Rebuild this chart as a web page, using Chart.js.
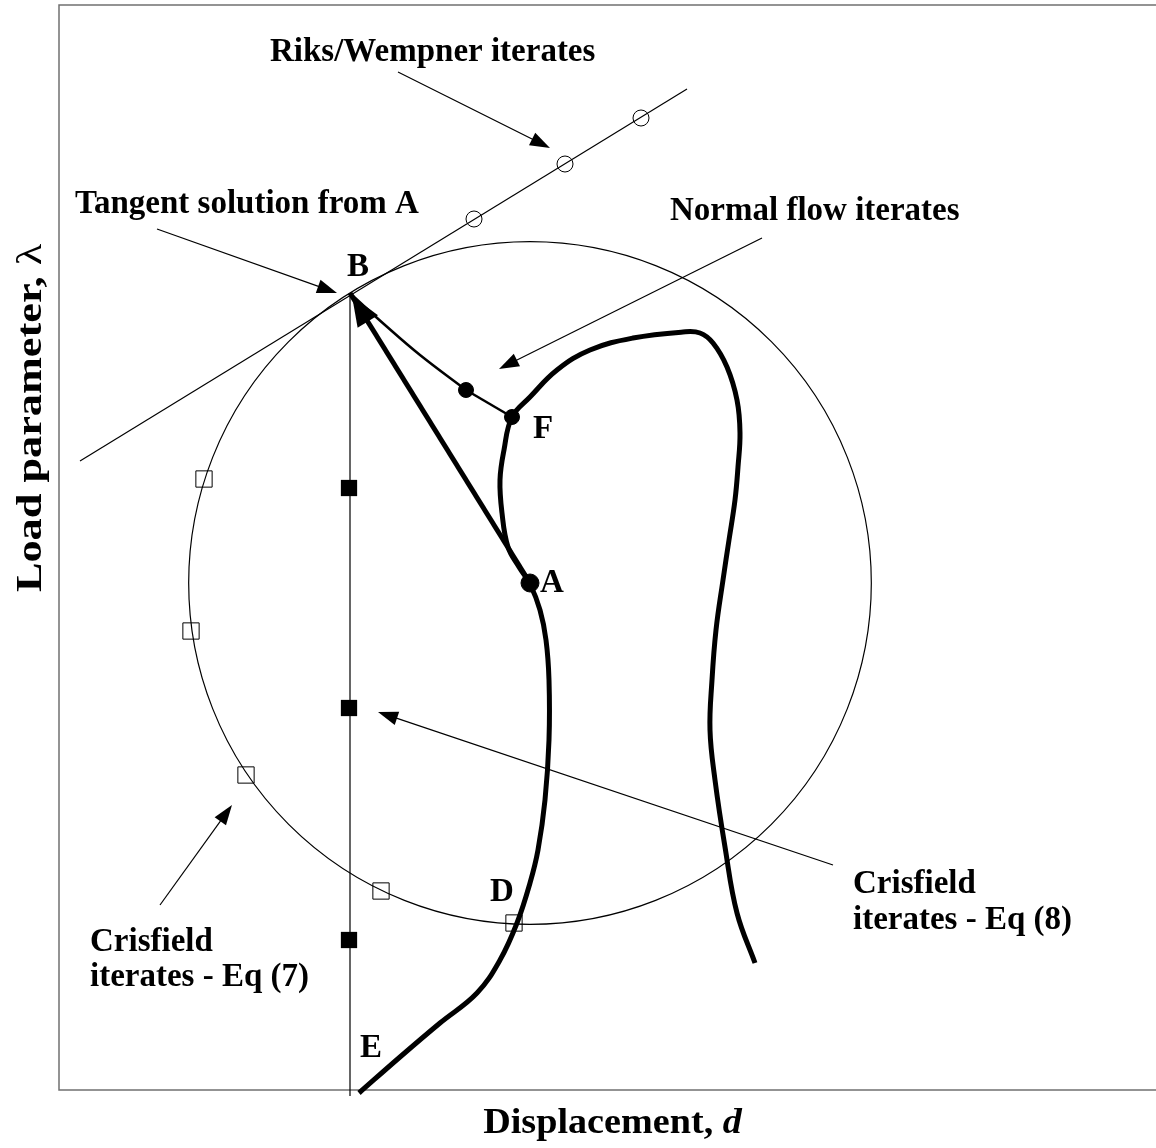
<!DOCTYPE html>
<html>
<head>
<meta charset="utf-8">
<script src="https://cdn.jsdelivr.net/npm/chart.js@4.4.1/dist/chart.umd.min.js"></script>
<style>
  body { margin: 0; background: #fff; }
  #wrap { width: 1156px; height: 1148px; }
</style>
</head>
<body>
<div id="wrap"><canvas id="diagram" width="1156" height="1148"></canvas></div>
<script>
// displacement d (x) and load parameter lambda (y), arbitrary units
const equilibriumPath = [
  [3.00,-0.03],[3.41,0.33],[3.81,0.67],[4.18,0.97],[4.41,1.30],[4.58,1.67],[4.71,2.07],
  [4.79,2.40],[4.86,2.90],[4.90,3.50],[4.90,4.10],[4.87,4.50],[4.81,4.80],[4.71,5.06],
  [4.60,5.23],[4.49,5.43],[4.43,5.77],[4.41,6.10],[4.45,6.40],[4.53,6.73],[4.71,6.93],
  [4.98,7.20],[5.31,7.40],[5.74,7.52],[6.24,7.58],[6.41,7.57],[6.54,7.47],[6.68,7.23],
  [6.78,6.90],[6.81,6.57],[6.79,6.23],[6.76,5.90],[6.70,5.50],[6.64,5.10],[6.57,4.60],
  [6.53,4.10],[6.51,3.60],[6.56,3.10],[6.66,2.43],[6.78,1.77],[6.96,1.27]
];
const pointA = [4.71, 5.07];
const pointB = [2.91, 7.97];
const tangentLine = [[0.21, 6.29], [6.28, 10.01]];
const riksIterates = [[4.15, 8.71], [5.06, 9.26], [5.82, 9.72]];
const verticalLine = [[2.91, 7.97], [2.91, -0.06]];
const crisfield8 = [[2.90, 6.02], [2.90, 3.82], [2.90, 1.50]];
const crisfield7 = [[1.45, 6.11], [1.32, 4.59], [1.87, 3.15], [3.22, 1.99], [4.55, 1.67]];
const normalFlowCurve = [[2.94, 7.94], [3.26, 7.65], [3.61, 7.35], [4.07, 7.00]];
const normalFlowStep = [[4.07, 7.00], [4.53, 6.73]];
const normalFlowIterates = [[4.07, 7.00], [4.53, 6.73]];

// annotation arrows: [from, to]
const pointers = [
  [[3.39, 10.18], [4.91, 9.42]],
  [[0.98, 8.61], [2.78, 7.97]],
  [[7.03, 8.52], [4.40, 7.21]],
  [[7.74, 2.25], [3.19, 3.78]],
  [[1.01, 1.85], [1.73, 2.85]]
];
const labels = [
  ['Riks/Wempner iterates', 2.11, 10.38, 'left'],
  ['Tangent solution from A', 0.16, 8.86, 'left'],
  ['Normal flow iterates', 6.11, 8.79, 'left'],
  ['B', 2.99, 8.23, 'center'],
  ['F', 4.84, 6.61, 'center'],
  ['A', 4.93, 5.07, 'center'],
  ['D', 4.43, 1.98, 'center'],
  ['E', 3.12, 0.42, 'center'],
  ['Crisfield', 7.94, 2.06, 'left'],
  ['iterates - Eq (8)', 7.94, 1.70, 'left'],
  ['Crisfield', 0.31, 1.48, 'left'],
  ['iterates - Eq (7)', 0.31, 1.13, 'left']
];

const pts = arr => arr.map(p => ({x: p[0], y: p[1]}));
const serif = '"Liberation Serif", "Times New Roman", serif';

function arrowHead(ctx, x0, y0, x1, y1, len, half) {
  const ang = Math.atan2(y1 - y0, x1 - x0);
  ctx.beginPath();
  ctx.moveTo(x1, y1);
  ctx.lineTo(x1 - len * Math.cos(ang) + half * Math.sin(ang), y1 - len * Math.sin(ang) - half * Math.cos(ang));
  ctx.lineTo(x1 - len * Math.cos(ang) - half * Math.sin(ang), y1 - len * Math.sin(ang) + half * Math.cos(ang));
  ctx.closePath();
  ctx.fill();
}

const overlay = {
  id: 'overlay',
  beforeDatasetsDraw(chart) {
    const {ctx, chartArea: a, scales: {x, y}} = chart;
    ctx.save();
    ctx.strokeStyle = '#707070';
    ctx.lineWidth = 1.5;
    ctx.beginPath();
    ctx.moveTo(a.right, a.top);
    ctx.lineTo(a.left, a.top);
    ctx.lineTo(a.left, a.bottom);
    ctx.lineTo(a.right, a.bottom);
    ctx.stroke();

    // constraint circle centred on A, passing through B
    const cx = x.getPixelForValue(pointA[0]), cy = y.getPixelForValue(pointA[1]);
    const bx = x.getPixelForValue(pointB[0]), by = y.getPixelForValue(pointB[1]);
    ctx.strokeStyle = '#000';
    ctx.lineWidth = 1.2;
    ctx.beginPath();
    ctx.arc(cx, cy, Math.hypot(bx - cx, by - cy), 0, Math.PI * 2);
    ctx.stroke();
    ctx.restore();
  },
  afterDatasetsDraw(chart) {
    const {ctx, chartArea: a, scales: {x, y}} = chart;
    ctx.save();
    ctx.fillStyle = '#000';
    ctx.strokeStyle = '#000';

    // thick arrow head at B
    arrowHead(ctx, x.getPixelForValue(pointA[0]), y.getPixelForValue(pointA[1]),
      x.getPixelForValue(pointB[0]) + 2, y.getPixelForValue(pointB[1]) + 3, 30, 12);

    ctx.lineWidth = 1.2;
    pointers.forEach(([p, q]) => {
      const x0 = x.getPixelForValue(p[0]), y0 = y.getPixelForValue(p[1]);
      const x1 = x.getPixelForValue(q[0]), y1 = y.getPixelForValue(q[1]);
      const ang = Math.atan2(y1 - y0, x1 - x0);
      ctx.beginPath();
      ctx.moveTo(x0, y0);
      ctx.lineTo(x1 - 10 * Math.cos(ang), y1 - 10 * Math.sin(ang));
      ctx.stroke();
      arrowHead(ctx, x0, y0, x1, y1, 20, 7);
    });

    ctx.font = 'bold 33px ' + serif;
    ctx.textBaseline = 'middle';
    labels.forEach(([t, vx, vy, al]) => {
      ctx.textAlign = al;
      ctx.fillText(t, x.getPixelForValue(vx), y.getPixelForValue(vy));
    });

    // axis titles (the source lettering is slightly stretched along its baseline)
    ctx.textAlign = 'left';
    ctx.save();
    ctx.translate((a.left + a.right) / 2 + 5, a.bottom + 34);
    ctx.scale(1.06, 1);
    const xt = 'Displacement, ';
    ctx.font = 'bold 36px ' + serif;
    const w1 = ctx.measureText(xt).width;
    ctx.font = 'bold italic 36px ' + serif;
    const w2 = ctx.measureText('d').width;
    ctx.font = 'bold 36px ' + serif;
    ctx.fillText(xt, -(w1 + w2) / 2, 0);
    ctx.font = 'bold italic 36px ' + serif;
    ctx.fillText('d', -(w1 + w2) / 2 + w1, 0);
    ctx.restore();

    ctx.translate(a.left - 27, y.getPixelForValue(6.72));
    ctx.rotate(-Math.PI / 2);
    ctx.scale(1.23, 1);
    const yt = 'Load parameter, ';
    ctx.font = 'bold 36px ' + serif;
    const v1 = ctx.measureText(yt).width;
    ctx.font = '36px ' + serif;
    const v2 = ctx.measureText('\u03bb').width;
    ctx.font = 'bold 36px ' + serif;
    ctx.fillText(yt, -(v1 + v2) / 2, 0);
    ctx.font = '36px ' + serif;
    ctx.fillText('\u03bb', -(v1 + v2) / 2 + v1, 0);
    ctx.restore();
  }
};

const lineSet = (data, width, tension) => ({
  data: pts(data), showLine: true, borderColor: '#000', borderWidth: width,
  pointRadius: 0, tension: tension, clip: false, fill: false
});

new Chart(document.getElementById('diagram'), {
  type: 'scatter',
  data: {
    datasets: [
      { data: pts([pointA]), pointStyle: 'circle', pointRadius: 9, backgroundColor: '#000', borderColor: '#000' },
      { data: pts(normalFlowIterates), pointStyle: 'circle', pointRadius: 7.5, backgroundColor: '#000', borderColor: '#000' },
      { data: pts(crisfield8), pointStyle: 'rect', pointRadius: 11.5, backgroundColor: '#000', borderColor: '#000', borderWidth: 0 },
      { data: pts(crisfield7), pointStyle: 'rect', pointRadius: 11.5, backgroundColor: 'rgba(0,0,0,0)', borderColor: '#000', borderWidth: 1 },
      { data: pts(riksIterates), pointStyle: 'circle', pointRadius: 8, backgroundColor: 'rgba(0,0,0,0)', borderColor: '#000', borderWidth: 1 },
      lineSet([pointA, pointB], 5, 0),
      lineSet(normalFlowStep, 2.5, 0),
      lineSet(normalFlowCurve, 2.5, 0.4),
      lineSet(equilibriumPath, 5, 0.4),
      lineSet(verticalLine, 1.2, 0),
      lineSet(tangentLine, 1.2, 0)
    ]
  },
  options: {
    responsive: false,
    animation: false,
    events: [],
    layout: { autoPadding: false, padding: { left: 59, top: 5, right: 0, bottom: 58 } },
    plugins: { legend: { display: false }, tooltip: { enabled: false } },
    scales: {
      x: { type: 'linear', min: 0, max: 10.97, display: false },
      y: { type: 'linear', min: 0, max: 10.85, display: false }
    }
  },
  plugins: [overlay]
});
</script>
</body>
</html>
